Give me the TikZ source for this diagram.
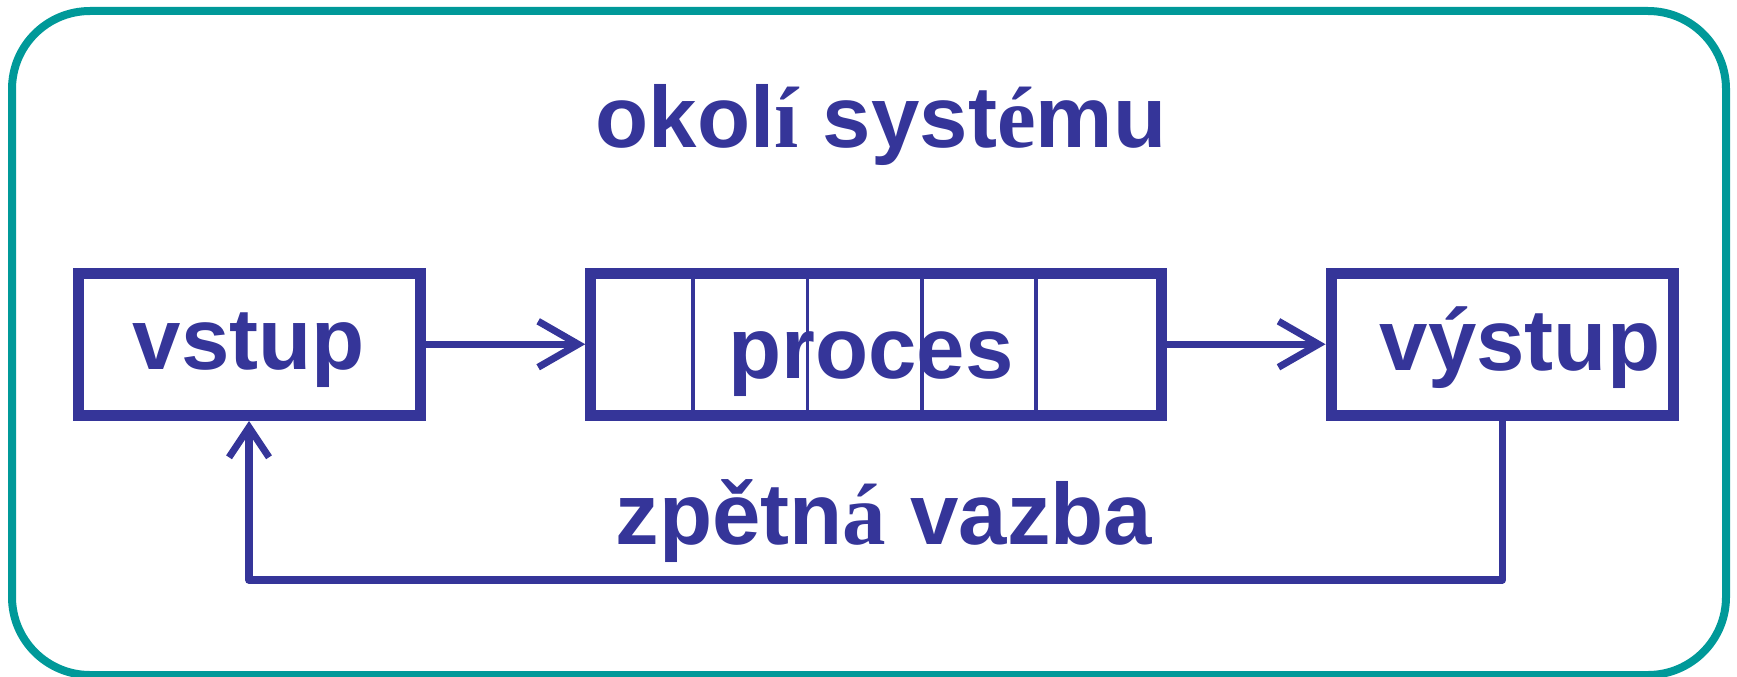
\documentclass[tikz,border=0pt]{standalone}
\usepackage{fontspec}
\setmainfont{Liberation Sans}
\newfontfamily\fbserif{Liberation Serif}
\usetikzlibrary{arrows.meta}
\definecolor{dblue}{RGB}{53,53,153}
\definecolor{tealframe}{RGB}{0,153,153}
\begin{document}
\begin{tikzpicture}[x=1pt,y=-1pt,
 frame/.style={draw=tealframe, line width=8pt, rounded corners=78pt, minimum width=1714pt, minimum height=664pt, inner sep=0pt, outer sep=0pt},
 box/.style={draw=dblue, line width=11pt, inner sep=0pt, minimum height=142.5pt},
 lbl/.style={text=dblue, font=\fontsize{87}{100}\selectfont\bfseries, inner sep=0pt, anchor=base},
 conn/.style={draw=dblue, line width=7.5pt, -{Straight Barb[length=40pt,width=46pt,line width=7pt]}},
 fb/.style={draw=dblue, line width=7.5pt, line join=round, -{Straight Barb[length=30pt,width=40pt,line width=7pt]}},
 divider/.style={draw=dblue, line width=3.7pt}]
\useasboundingbox (0,0) rectangle (1737,677);
\node[frame] (env) at (869,343) {};
\node[box, minimum width=342pt] (vstup) at (249,344.25) {};
\node[box, minimum width=570.3pt] (proces) at (875.85,344.25) {};
\node[box, minimum width=342.6pt] (vystup) at (1502.3,344.25) {};
\foreach \dx in {693,807.6,921.9,1036}
  \draw[divider] (\dx,278) -- (\dx,411);
\node[lbl] (title) at (881,147) {okol{\fbserif í} syst{\fbserif é}mu};
\node[lbl] (tvstup) at (249,369) {vstup};
\node[lbl] (tproces) at (871,378) {proces};
\node[lbl] (tvystup) at (1520,370) {výstup};
\node[lbl] (tfb) at (884,544) {zpětn{\fbserif á} vazba};
\draw[conn] (vstup.east) -- (proces.west);
\draw[conn] (proces.east) -- (vystup.west);
\coordinate (fbc) at (1502.3,580);
\draw[fb] (vystup.south) -- (fbc) -| (vstup.south);
\end{tikzpicture}
\end{document}
